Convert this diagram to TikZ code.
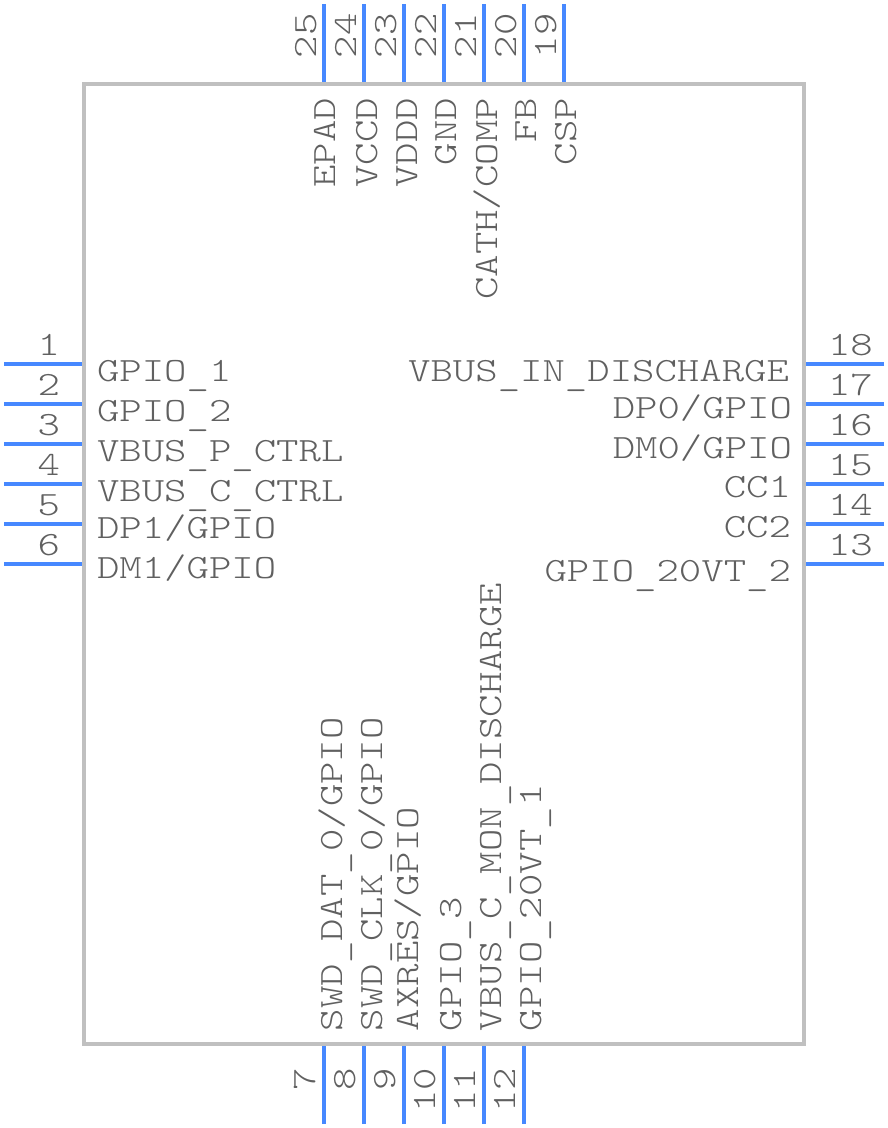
\documentclass[tikz,border=0pt]{standalone}
\usepackage{fontspec}
\setmonofont[FakeStretch=1.255]{Latin Modern Mono Light}
\definecolor{pinblue}{HTML}{4688FF}
\definecolor{bodygray}{HTML}{C0C0C0}
\definecolor{txtgray}{HTML}{606060}
\newcommand{\us}{\raisebox{-4pt}{\_}}
\tikzset{
  pinline/.style={draw=pinblue,line width=4pt},
  lbl/.style={text=txtgray,font=\fontsize{34}{34}\selectfont\ttfamily,inner sep=0pt,outer sep=0pt},
  lw/.style={lbl,anchor=base west},
  le/.style={lbl,anchor=base east},
  upw/.style={lbl,anchor=base west,rotate=90},
  upe/.style={lbl,anchor=base east,rotate=90},
}
\begin{document}
\begin{tikzpicture}[x=1pt,y=-1pt]
\useasboundingbox (0,0) rectangle (888,1128);
\node[draw=bodygray,line width=4pt,minimum width=720pt,minimum height=960pt,inner sep=0pt,outer sep=0pt,anchor=north west] (chip) at (84,84) {};
% left pins
\foreach \n/\y in {1/364,2/404,3/444,4/484,5/524,6/564}{
  \coordinate (p\n) at (4,\y);
  \coordinate (q\n) at (82,\y);
  \draw[pinline] (p\n) -- (q\n);
  \node[le] (n\n) at (60,\y-9) {\n};
}
% right pins
\foreach \n/\y in {18/364,17/404,16/444,15/484,14/524,13/564}{
  \coordinate (p\n) at (884,\y);
  \coordinate (q\n) at (806,\y);
  \draw[pinline] (p\n) -- (q\n);
  \node[lw] (n\n) at (828,\y-9) {\n};
}
% top pins
\foreach \n/\x in {25/324,24/364,23/404,22/444,21/484,20/524,19/564}{
  \coordinate (p\n) at (\x,4);
  \coordinate (q\n) at (\x,82);
  \draw[pinline] (p\n) -- (q\n);
  \node[upw] (n\n) at (\x-8,58) {\n};
}
% bottom pins
\foreach \n/\x in {7/324,8/364,9/404,10/444,11/484,12/524}{
  \coordinate (p\n) at (\x,1124);
  \coordinate (q\n) at (\x,1046);
  \draw[pinline] (p\n) -- (q\n);
  \node[upe] (n\n) at (\x-9,1068) {\n};
}
% left labels
\node[lw] (l1) at (97,381) {GPIO\us 1};
\node[lw] (l2) at (97,421) {GPIO\us 2};
\node[lw] (l3) at (97,461) {VBUS\us P\us CTRL};
\node[lw] (l4) at (97,501) {VBUS\us C\us CTRL};
\node[lw] (l5) at (97,538) {DP1/GPIO};
\node[lw] (l6) at (97,578) {DM1/GPIO};
% right labels
\node[le] (l18) at (789,381) {VBUS\us IN\us DISCHARGE};
\node[le] (l17) at (792,418) {DP0/GPIO};
\node[le] (l16) at (792,458) {DM0/GPIO};
\node[le] (l15) at (791,497) {CC1};
\node[le] (l14) at (791,537) {CC2};
\node[le] (l13) at (791,581) {GPIO\us 20VT\us 2};
% top labels
\node[upe] (l25) at (335,98) {EPAD};
\node[upe] (l24) at (377,98) {VCCD};
\node[upe] (l23) at (417,98) {VDDD};
\node[upe] (l22) at (456,98) {GND};
\node[upe] (l21) at (497,98) {CATH/COMP};
\node[upe] (l20) at (536,98) {FB};
\node[upe] (l19) at (576,98) {CSP};
% bottom labels
\node[upw] (l7) at (342,1031) {SWD\us DAT\us 0/GPIO};
\node[upw] (l8) at (382,1031) {SWD\us CLK\us 0/GPIO};
\node[upw] (l9) at (418,1031) {AXRES/GPIO};
\node[upw] (l10) at (461,1031) {GPIO\us 3};
\node[upw] (l11) at (501,1031) {VBUS\us C\us MON\us DISCHARGE};
\node[upw] (l12) at (541,1031) {GPIO\us 20VT\us 1};
\end{tikzpicture}
\end{document}
